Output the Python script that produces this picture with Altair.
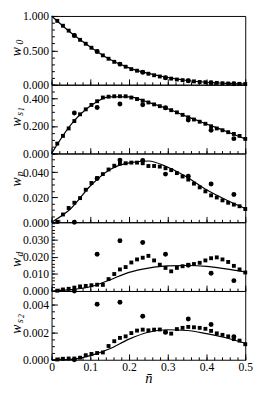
import altair as alt
import pandas as pd
import numpy as np

# x positions
sq_n = [0.0147, 0.0294, 0.0441, 0.0588, 0.0735, 0.0882, 0.1029, 0.1176, 0.1324, 0.1471,
        0.1618, 0.1765, 0.1912, 0.2059, 0.2206, 0.2353, 0.2500, 0.2647, 0.2794, 0.2941,
        0.3088, 0.3235, 0.3382, 0.3529, 0.3676, 0.3824, 0.3971, 0.4118, 0.4265, 0.4412,
        0.4559, 0.4706, 0.4853, 0.5000]
circ_n = [0.0588, 0.1176, 0.1765, 0.2353, 0.2941, 0.3529, 0.4118, 0.4706]
line_n = [0.0, 0.05, 0.10, 0.15, 0.20, 0.25, 0.30, 0.35, 0.40, 0.45, 0.50]

# panel 1: w_0
w0_sq = [0.929, 0.858, 0.787, 0.716, 0.653, 0.596, 0.538, 0.484, 0.427, 0.378,
         0.333, 0.298, 0.262, 0.227, 0.204, 0.182, 0.160, 0.138, 0.120, 0.102,
         0.089, 0.076, 0.067, 0.058, 0.049, 0.040, 0.036, 0.030, 0.027, 0.022,
         0.018, 0.015, 0.013, 0.010]
w0_ci = [0.716, 0.484, 0.300, 0.182, 0.102, 0.058, 0.030, 0.015]
w0_ln = [1.0, 0.755, 0.55, 0.37, 0.245, 0.165, 0.105, 0.062, 0.036, 0.020, 0.010]

# panel 2: w_s1
ws1_sq = [0.072, 0.128, 0.182, 0.236, 0.285, 0.321, 0.353, 0.380, 0.407, 0.413,
          0.416, 0.416, 0.416, 0.407, 0.396, 0.384, 0.371, 0.357, 0.344, 0.330,
          0.315, 0.299, 0.281, 0.263, 0.247, 0.231, 0.216, 0.198, 0.182, 0.169,
          0.155, 0.142, 0.128, 0.106]
ws1_ci = [0.294, 0.335, 0.360, 0.355, 0.332, 0.243, 0.169, 0.108]
ws1_ln = [0.0, 0.21, 0.345, 0.412, 0.412, 0.372, 0.325, 0.268, 0.215, 0.162, 0.106]

# panel 3: w_p
wp_sq = [0.0003, 0.0062, 0.0114, 0.0156, 0.0193, 0.0260, 0.0314, 0.0353, 0.0385, 0.0422,
         0.0452, 0.0470, 0.0472, 0.0477, 0.0477, 0.0472, 0.0450, 0.0450, 0.0445, 0.0432,
         0.0417, 0.0393, 0.0366, 0.0341, 0.0309, 0.0279, 0.0247, 0.0215, 0.0198, 0.0175,
         0.0156, 0.0141, 0.0128, 0.0106]
wp_ci = [0.0, 0.0350, 0.0497, 0.0494, 0.0385, 0.0368, 0.0306, 0.0222]
wp_ln = [0.0, 0.011, 0.029, 0.042, 0.0475, 0.049, 0.044, 0.036, 0.026, 0.018, 0.011]

# panel 4: w_d
wd_sq = [0.0002, 0.0009, 0.0013, 0.0020, 0.0027, 0.0030, 0.0034, 0.0037, 0.0036, 0.0070,
         0.0100, 0.0127, 0.0141, 0.0168, 0.0186, 0.0196, 0.0207, 0.0180, 0.0155, 0.0136,
         0.0116, 0.0136, 0.0146, 0.0154, 0.0159, 0.0166, 0.0180, 0.0193, 0.0198, 0.0186,
         0.0171, 0.0148, 0.0127, 0.0109]
wd_ci = [0.0, 0.0216, 0.0296, 0.0286, 0.0216, 0.0152, 0.0104, 0.0061]
wd_ln = [0.0, 0.0008, 0.0025, 0.0065, 0.011, 0.0135, 0.0148, 0.0150, 0.0145, 0.0130, 0.0112]

# panel 5: w_s2
ws2_sq = [0.00002, 0.00007, 0.00009, 0.00009, 0.00015, 0.00033, 0.00042, 0.00049, 0.00053, 0.00100,
          0.00135, 0.00159, 0.00170, 0.00194, 0.00212, 0.00219, 0.00214, 0.00219, 0.00220, 0.00200,
          0.00190, 0.00223, 0.00232, 0.00239, 0.00236, 0.00232, 0.00225, 0.00210, 0.00192, 0.00181,
          0.00170, 0.00150, 0.00139, 0.00113]
ws2_ci = [0.0, 0.00404, 0.00418, 0.00316, 0.00200, 0.00296, 0.00256, 0.00168]
ws2_ln = [0.0, 0.00003, 0.0003, 0.0008, 0.0015, 0.0020, 0.00218, 0.00213, 0.0019, 0.0016, 0.0012]

FONT = "Liberation Serif"
W, H = 200, 71
WX, SX, SSX = -32, -29.5, -28  # title anchors (alphabetic baseline, rotated)

panels = [
    dict(sq=w0_sq, ci=w0_ci, ln=w0_ln, dom=[0, 1.0], major=[0, 0.5, 1.0], minor=0.1,
         title=[("w", WX, 37, 14), ("0", SX, 27, 10)]),
    dict(sq=ws1_sq, ci=ws1_ci, ln=ws1_ln, dom=[0, 0.5], major=[0, 0.2, 0.4], minor=0.05,
         title=[("w", WX, 38.5, 14), ("s", SX, 30, 10), ("1", SSX, 25, 8)]),
    dict(sq=wp_sq, ci=wp_ci, ln=wp_ln, dom=[0, 0.055], major=[0, 0.02, 0.04], minor=0.005,
         title=[("w", WX, 29.5, 14), ("p", SX, 21, 10)]),
    dict(sq=wd_sq, ci=wd_ci, ln=wd_ln, dom=[0, 0.0405], major=[0, 0.01, 0.02, 0.03], minor=0.002,
         title=[("w", WX, 41.5, 14), ("d", SX, 33, 10)]),
    dict(sq=ws2_sq, ci=ws2_ci, ln=ws2_ln, dom=[0, 0.005], major=[0, 0.002, 0.004], minor=0.0005,
         title=[("w", WX, 39.5, 14), ("s", SX, 31, 10), ("2", SSX, 26, 8)]),
]

x_major = [0, 0.1, 0.2, 0.3, 0.4, 0.5]
x_minor = [round(v, 2) for v in np.arange(0, 0.5001, 0.02)]

charts = []
for i, p in enumerate(panels):
    last = i == len(panels) - 1
    sq_df = pd.DataFrame({"n": sq_n, "w": p["sq"]})
    ci_df = pd.DataFrame({"n": circ_n, "w": p["ci"]})
    ln_df = pd.DataFrame({"n": line_n, "w": p["ln"]})
    yminor = [round(v, 6) for v in np.arange(0, p["dom"][1] + 1e-9, p["minor"])]
    xscale = alt.Scale(domain=[0, 0.5], nice=False)
    yscale = alt.Scale(domain=p["dom"], nice=False)

    if last:
        x_major_axis = alt.Axis(
            values=x_major, orient="bottom", offset=-6, tickSize=6, domain=False, grid=False,
            labels=True, format=".1~f", labelFont=FONT, labelFontSize=12, labelColor="black",
            labelPadding=2, labelFlush=False, tickColor="black",
            title="n\u0304", titleFont=FONT, titleFontSize=15,
            titleFontStyle="italic", titleFontWeight="normal", titleColor="black", titlePadding=-2,
        )
    else:
        x_major_axis = alt.Axis(
            values=x_major, orient="bottom", offset=-6, tickSize=6, domain=False, grid=False,
            labels=False, tickColor="black", title=None,
        )
    x_minor_axis = alt.Axis(values=x_minor, orient="bottom", offset=-3, tickSize=3,
                            domain=False, grid=False, labels=False, tickColor="black", title=None)
    y_major_axis = alt.Axis(values=p["major"], orient="left", offset=-6, tickSize=6, domain=False,
                            grid=False, format=".3f", labelFont=FONT, labelFontSize=12,
                            labelColor="black", labelPadding=3, labelFlush=False,
                            labelOverlap=False, tickColor="black", title=None)
    y_minor_axis = alt.Axis(values=yminor, orient="left", offset=-3, tickSize=3, domain=False,
                            grid=False, labels=False, tickColor="black", title=None)

    line = alt.Chart(ln_df).mark_line(color="black", strokeWidth=1.2, interpolate="monotone").encode(
        x=alt.X("n:Q", scale=xscale, axis=x_major_axis),
        y=alt.Y("w:Q", scale=yscale, axis=y_major_axis),
    )
    sq = alt.Chart(sq_df).mark_square(size=16, color="black", opacity=1).encode(
        x=alt.X("n:Q", scale=xscale, axis=x_minor_axis),
        y=alt.Y("w:Q", scale=yscale, axis=y_minor_axis),
    )
    ci = alt.Chart(ci_df).mark_circle(size=26, color="black", opacity=1).encode(
        x=alt.X("n:Q", scale=xscale, axis=None),
        y=alt.Y("w:Q", scale=yscale, axis=None),
    )
    layers = [line, sq, ci]
    for (txt, tx, ty, fs) in p["title"]:
        layers.append(
            alt.Chart(pd.DataFrame({"t": [txt]})).mark_text(
                font=FONT, fontSize=fs, fontStyle="italic", angle=270,
                align="center", baseline="alphabetic", color="black",
            ).encode(x=alt.value(tx), y=alt.value(ty), text="t:N")
        )
    panel = alt.layer(*layers).resolve_axis(x="independent", y="independent").properties(width=W, height=H)
    charts.append(panel)

chart = alt.vconcat(*charts, spacing=0, bounds="flush").properties(
    padding={"left": 1, "top": -5, "right": 0, "bottom": -2}
).configure_view(stroke="black", strokeWidth=1)

chart.save("out.html", embed_options={"renderer": "svg", "actions": False})
